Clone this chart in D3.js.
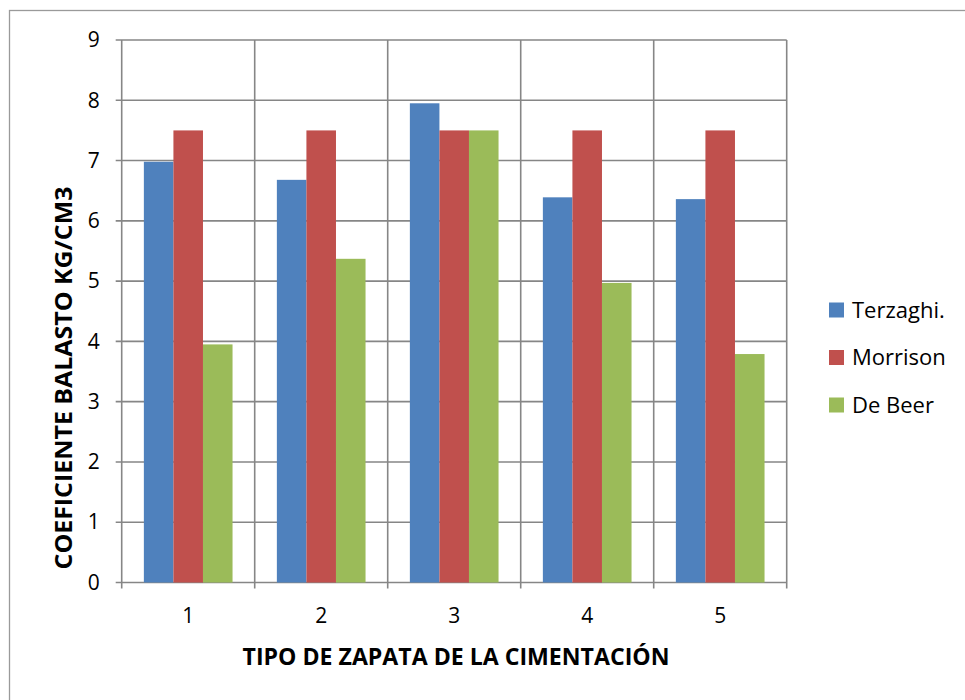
<!DOCTYPE html>
<html>
<head>
<meta charset="utf-8">
<script src="https://cdn.jsdelivr.net/npm/d3@7"></script>
<style>
  html, body { margin: 0; padding: 0; background: #fff; }
  svg { display: block; font-family: "Open Sans", Lato, sans-serif; }
</style>
</head>
<body>
<svg id="chart" width="965" height="700"></svg>
<script>
// Ground-bed coefficient per footing type, three methods
const categories = ["1", "2", "3", "4", "5"];
const seriesNames = ["Terzaghi.", "Morrison", "De Beer"];
const terzaghi = [6.98, 6.68, 7.95, 6.39, 6.36];
const morrison = [7.5, 7.5, 7.5, 7.5, 7.5];
const deBeer = [3.95, 5.37, 7.5, 4.97, 3.79];
const yTicks = [0, 1, 2, 3, 4, 5, 6, 7, 8, 9];
const colors = ["#4F81BD", "#C0504D", "#9BBB59"];
const xTitle = "TIPO DE ZAPATA DE LA CIMENTACIÓN";
const yTitle = "COEFICIENTE BALASTO KG/CM3";

const seriesValues = [terzaghi, morrison, deBeer];
const fontFamily = "'Open Sans', Lato, sans-serif";

const svg = d3.select("#chart");
const plot = { left: 121.7, right: 786.7, top: 40, bottom: 582.5 };
const gridColor = "#868686";

// Outer frame (extends past the right and bottom edges)
svg.append("rect")
  .attr("x", 9.5).attr("y", 10.5)
  .attr("width", 980).attr("height", 720)
  .attr("fill", "#fff").attr("stroke", "#9a9a9a").attr("stroke-width", 1.3);

const x = d3.scaleBand().domain(categories).range([plot.left, plot.right]);
const y = d3.scaleLinear().domain([0, 9]).range([plot.bottom, plot.top]);
// 150% gap between groups: group uses 3 of 4.5 bar widths
const inner = d3.scaleBand().domain(d3.range(seriesNames.length))
  .range([0, x.bandwidth() * 3 / 4.5]);
const groupOffset = x.bandwidth() * 0.75 / 4.5;

// Horizontal gridlines
svg.append("g").selectAll("line").data(yTicks).join("line")
  .attr("x1", plot.left - 6).attr("x2", plot.right)
  .attr("y1", d => y(d)).attr("y2", d => y(d))
  .attr("stroke", gridColor).attr("stroke-width", 1.6);

// Vertical gridlines at category boundaries
const bounds = categories.map(c => x(c)).concat([plot.right]);
svg.append("g").selectAll("line").data(bounds).join("line")
  .attr("x1", d => d).attr("x2", d => d)
  .attr("y1", plot.top).attr("y2", plot.bottom + 6)
  .attr("stroke", gridColor).attr("stroke-width", 1.6);

// Bars
const rows = [];
categories.forEach((c, i) => {
  seriesValues.forEach((vals, s) => rows.push({ c, s, v: vals[i] }));
});
svg.append("g").selectAll("rect").data(rows).join("rect")
  .attr("x", d => x(d.c) + groupOffset + inner(d.s))
  .attr("width", inner.bandwidth())
  .attr("y", d => y(d.v))
  .attr("height", d => y(0) - y(d.v))
  .attr("fill", d => colors[d.s]);

// Axes
const yAxis = d3.axisLeft(y).tickValues(yTicks).tickSize(0).tickPadding(22);
svg.append("g").attr("transform", `translate(${plot.left},0)`).call(yAxis)
  .call(g => g.select(".domain").remove())
  .selectAll("text").attr("font-size", 21).attr("fill", "#000")
  .attr("font-family", fontFamily);

const xAxis = d3.axisBottom(x).tickSize(0).tickPadding(26);
svg.append("g").attr("transform", `translate(0,${plot.bottom})`).call(xAxis)
  .call(g => g.select(".domain").remove())
  .selectAll("text").attr("font-size", 21).attr("fill", "#000")
  .attr("font-family", fontFamily);

// Axis titles
svg.append("text")
  .attr("x", 456).attr("y", 665)
  .attr("text-anchor", "middle")
  .attr("font-size", 23).attr("font-weight", "bold")
  .attr("textLength", 427).attr("lengthAdjust", "spacingAndGlyphs")
  .text(xTitle);

svg.append("text")
  .attr("transform", "translate(72,378) rotate(-90)")
  .attr("text-anchor", "middle")
  .attr("font-size", 23).attr("font-weight", "bold")
  .attr("textLength", 383).attr("lengthAdjust", "spacingAndGlyphs")
  .text(yTitle);

// Legend
const legend = svg.append("g").selectAll("g").data(seriesNames).join("g")
  .attr("transform", (d, i) => `translate(829,${310 + i * 47.5})`);
legend.append("rect")
  .attr("x", 0).attr("y", -7.5).attr("width", 15).attr("height", 15)
  .attr("fill", (d, i) => colors[i]);
legend.append("text")
  .attr("x", 23).attr("y", 0).attr("dy", "0.35em")
  .attr("font-size", 22).attr("fill", "#000")
  .text(d => d);
</script>
</body>
</html>
